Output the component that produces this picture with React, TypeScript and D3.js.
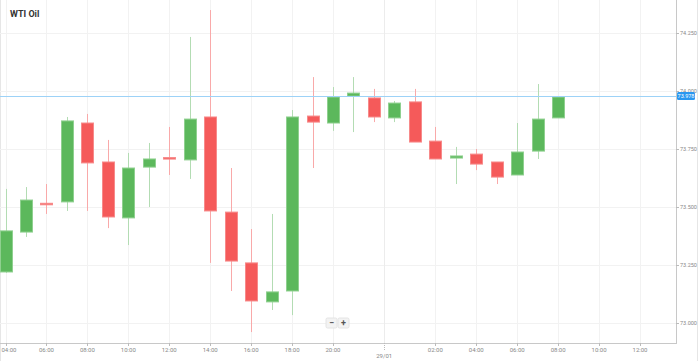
import React from "react";
import * as d3 from "d3";

const times = ["04:00","05:00","06:00","07:00","08:00","09:00","10:00","11:00","12:00","13:00","14:00","15:00","16:00","17:00","18:00","19:00","20:00","21:00","22:00","00:00","01:00","02:00","03:00","04:00","05:00","06:00","07:00","08:00"];
const opens = [73.220,73.392,73.516,73.522,73.862,73.694,73.453,73.672,73.713,73.703,73.888,73.478,73.259,73.091,73.138,73.892,73.862,73.978,73.970,73.884,73.953,73.784,73.711,73.728,73.694,73.638,73.741,73.884];
const highs = [73.578,73.586,73.599,73.888,73.901,73.789,73.733,73.776,73.845,74.233,74.349,73.668,73.405,73.470,73.918,74.060,74.017,74.060,74.009,73.957,74.009,73.845,73.759,73.750,73.694,73.862,74.030,73.978];
const lows = [73.216,73.371,73.470,73.483,73.483,73.409,73.336,73.500,73.638,73.621,73.259,73.138,72.961,73.056,73.034,73.668,73.828,73.823,73.866,73.866,73.780,73.707,73.599,73.659,73.599,73.638,73.707,73.884];
const closes = [73.397,73.530,73.512,73.871,73.690,73.457,73.668,73.707,73.709,73.879,73.483,73.267,73.095,73.134,73.888,73.866,73.974,73.991,73.888,73.948,73.780,73.707,73.720,73.685,73.629,73.737,73.879,73.974];

const yTicks = [73.0, 73.25, 73.5, 73.75, 74.0, 74.25];
const xTickIdx = [0, 2, 4, 6, 8, 10, 12, 14, 16, 21, 23, 25, 27, 29, 31];
const xTickLabels = ["04:00","06:00","08:00","10:00","12:00","14:00","16:00","18:00","20:00","02:00","04:00","06:00","08:00","10:00","12:00"];
const dateTickIdx = 18.5;
const dateTickLabel = "29/01";
const currentPrice = 73.978;
const currentLabel = "73.978";
const title = "WTI Oil";

const W = 699, H = 361;
const plotRight = 676, plotBottom = 343;

export default function App() {
  const x = d3.scaleLinear().domain([0, 31]).range([5.5, 640]);
  const y = d3.scaleLinear().domain([73, 74]).range([323, 91]);
  const green = "#5cb85c", red = "#f55a5a";
  const greenW = "#b3dcb3", redW = "#f9a9a9";
  const bw = 12;
  const font = "Roboto, 'Open Sans', sans-serif";
  return (
    <svg width={W} height={H} style={{ position: "absolute", left: 0, top: 0, background: "#fff" }} fontFamily={font}>
      <line x1={0.5} y1={0} x2={0.5} y2={H} stroke="#e6e6e6" />
      <line x1={697.5} y1={0} x2={697.5} y2={H} stroke="#e6e6e6" />
      {yTicks.map((t) => (
        <line key={"hg" + t} x1={0} x2={plotRight} y1={Math.round(y(t)) + 0.5} y2={Math.round(y(t)) + 0.5} stroke="#f2f2f2" />
      ))}
      {xTickIdx.map((i) => (
        <line key={"vg" + i} x1={Math.round(x(i)) + 0.5} x2={Math.round(x(i)) + 0.5} y1={0} y2={plotBottom} stroke="#f2f2f2" />
      ))}
      <line x1={Math.round(x(dateTickIdx)) + 0.5} x2={Math.round(x(dateTickIdx)) + 0.5} y1={0} y2={plotBottom} stroke="#ececec" />
      <text x={10} y={17} fontSize={9} fontWeight="bold" fill="#333">{title}</text>
      {times.map((t, i) => {
        const up = closes[i] >= opens[i];
        const cx = x(i);
        const top = y(Math.max(opens[i], closes[i]));
        const bot = y(Math.min(opens[i], closes[i]));
        const h = Math.max(bot - top, 1.5);
        return (
          <g key={"c" + i}>
            <line x1={Math.round(cx) + 0.5} x2={Math.round(cx) + 0.5} y1={y(highs[i])} y2={y(lows[i])} stroke={up ? greenW : redW} strokeWidth={1} />
            <rect x={Math.round(cx - bw / 2) + 0.5} y={top} width={bw} height={h} fill={up ? green : red} stroke={up ? "#8fd08f" : "#f78a8a"} strokeWidth={1} />
          </g>
        );
      })}
      <line x1={0} x2={plotRight} y1={Math.round(y(currentPrice)) + 0.5} y2={Math.round(y(currentPrice)) + 0.5} stroke="#9dd2f7" strokeWidth={1} />
      <line x1={plotRight + 0.5} x2={plotRight + 0.5} y1={0} y2={plotBottom + 1} stroke="#c8c8c8" />
      <line x1={0} x2={plotRight + 1} y1={plotBottom + 0.5} y2={plotBottom + 0.5} stroke="#c8c8c8" />
      {yTicks.map((t) => (
        <g key={"yt" + t}>
          <line x1={plotRight} x2={plotRight + 3} y1={Math.round(y(t)) + 0.5} y2={Math.round(y(t)) + 0.5} stroke="#bbb" />
          <text x={plotRight + 4} y={y(t) + 2} fontSize={5.5} fill="#888">{t.toFixed(3)}</text>
        </g>
      ))}
      <rect x={plotRight + 1} y={y(currentPrice) - 4} width={18} height={8} rx={1.5} fill="#2a97f0" />
      <text x={plotRight + 10} y={y(currentPrice) + 2} fontSize={5.5} fill="#fff" textAnchor="middle">{currentLabel}</text>
      {xTickIdx.map((i, k) => (
        <g key={"xt" + i}>
          <line x1={Math.round(x(i)) + 0.5} x2={Math.round(x(i)) + 0.5} y1={plotBottom} y2={plotBottom + 3} stroke="#bbb" />
          <text x={k === 0 ? 1.5 : x(i)} y={plotBottom + 9} fontSize={6} fill="#888" textAnchor={k === 0 ? "start" : "middle"}>{xTickLabels[k]}</text>
        </g>
      ))}
      <line x1={Math.round(x(dateTickIdx)) + 0.5} x2={Math.round(x(dateTickIdx)) + 0.5} y1={plotBottom} y2={plotBottom + 7} stroke="#bbb" strokeDasharray="1,1" />
      <text x={x(dateTickIdx)} y={plotBottom + 15} fontSize={6} fill="#888" textAnchor="middle">{dateTickLabel}</text>
      <g>
        <rect x={326} y={318} width={11} height={10} rx={1.5} fill="#f3f3f3" stroke="#e4e4e4" />
        <text x={331.5} y={326} fontSize={9} fontWeight="bold" fill="#555" textAnchor="middle">−</text>
        <rect x={338} y={318} width={11} height={10} rx={1.5} fill="#f3f3f3" stroke="#e4e4e4" />
        <text x={343.5} y={326} fontSize={9} fontWeight="bold" fill="#555" textAnchor="middle">+</text>
      </g>
    </svg>
  );
}
